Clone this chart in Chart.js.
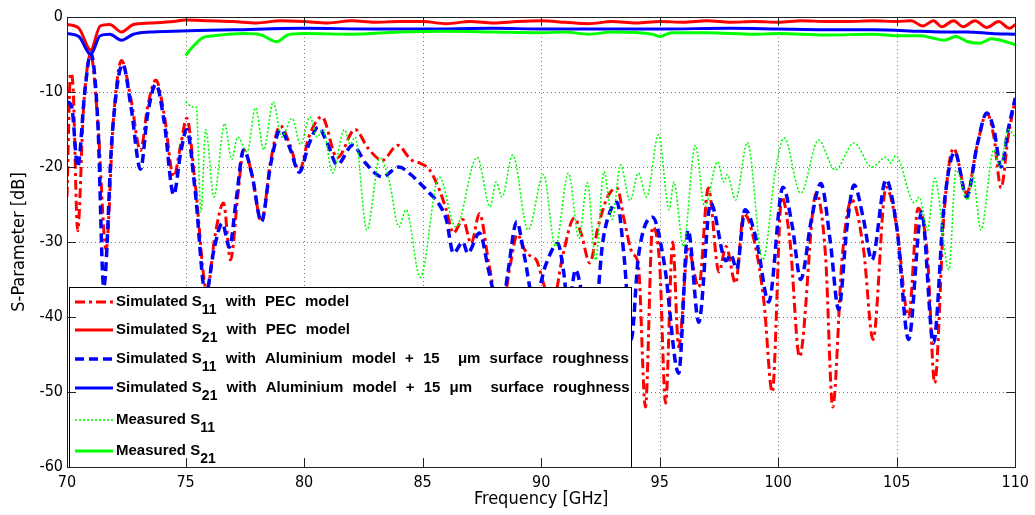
<!DOCTYPE html>
<html>
<head>
<meta charset="utf-8">
<script src="https://cdn.jsdelivr.net/npm/chart.js@4.4.1/dist/chart.umd.min.js"></script>
<style>
  html, body { margin: 0; padding: 0; background: #fff; }
  #wrap { width: 1035px; height: 515px; }
</style>
</head>
<body>
<div id="wrap"><canvas id="c" width="1035" height="515"></canvas></div>
<script>
// ---- Frequency axis [GHz] and S-parameter values [dB] ----

// Simulated S11, PEC model
const freqPecS11 = [70.0, 70.15, 70.25, 70.45, 70.7, 71.0, 71.3, 71.65, 71.95, 72.3,
  72.7, 73.1, 73.4, 73.75, 74.1, 74.5, 74.8, 75.05, 75.4, 75.9,
  76.25, 76.6, 76.9, 77.2, 77.45, 77.8, 78.2, 78.6, 79.0, 79.4,
  79.8, 80.2, 80.75, 81.4, 82.15, 82.7, 83.3, 83.95, 84.5, 84.9,
  85.3, 85.7, 86.0, 86.3, 86.7, 87.05, 87.4, 87.8, 88.3, 88.7,
  89.0, 89.3, 89.6, 89.8, 90.15, 90.5, 90.9, 91.4, 91.7, 92.05,
  92.4, 92.8, 93.2, 93.5, 93.85, 94.1, 94.4, 94.7, 95.0, 95.25,
  95.55, 95.8, 96.2, 96.65, 97.05, 97.5, 97.8, 98.2, 98.55, 99.0,
  99.4, 99.75, 100.15, 100.5, 100.9, 101.6, 102.0, 102.3, 102.7, 103.1,
  103.6, 104.0, 104.55, 105.0, 105.5, 105.9, 106.3, 106.6, 107.0, 107.4,
  107.95, 108.4, 108.8, 109.1, 109.4, 109.7, 110.0];
const pecS11 = [-24, -7.5, -9, -28.5, -12, -5.0, -14, -31, -14, -5.8,
  -11, -17.8, -12, -8.4, -13, -21.3, -17, -13.5, -22, -36.5,
  -29, -24.8, -32.4, -24, -17.7, -21, -27.3, -19, -14.5, -17,
  -20.5, -16, -13.3, -18.8, -15, -17.5, -19.1, -17.1, -19, -19.5,
  -20.4, -23, -25.7, -28.8, -27, -30.2, -26.2, -33, -40, -33,
  -29, -31, -32, -32.4, -36, -38, -32, -26.8, -29, -32.8,
  -28, -24, -22.8, -27, -31.5, -33, -52, -28, -33, -51.5,
  -30, -44, -31, -36, -22.8, -34, -30.6, -35.5, -26.2, -30,
  -38, -50, -24, -30, -45.3, -23.5, -32, -52, -32, -24.4,
  -31, -43, -22.7, -28, -40, -25.5, -32, -48.8, -26, -17.5,
  -23.5, -17, -12.8, -16, -22.8, -16, -11];

// Simulated S21, PEC model
const freqPecS21 = [70.0, 70.5, 71.0, 71.4, 71.8, 72.3, 72.8, 73.5, 74.5, 75.0,
  76.0, 77.0, 78.0, 79.0, 80.0, 81.0, 82.0, 83.0, 84.0, 85.0,
  86.0, 87.0, 88.0, 89.0, 90.0, 91.0, 92.0, 93.0, 94.0, 95.0,
  96.0, 97.0, 98.0, 99.0, 100.0, 101.0, 102.0, 103.0, 104.0, 105.0,
  105.6, 106.1, 106.55, 106.9, 107.4, 107.8, 108.3, 108.8, 109.3, 109.75, 110.0];
const pecS21 = [-1.0, -1.5, -4.4, -1.2, -1.0, -2.0, -1.0, -0.8, -0.6, -0.4,
  -0.5, -0.6, -0.8, -0.5, -0.6, -0.8, -0.5, -0.7, -0.6, -0.6,
  -0.9, -0.6, -0.8, -0.6, -0.5, -0.7, -0.9, -0.6, -0.8, -0.6,
  -0.7, -0.5, -0.7, -0.6, -0.7, -0.5, -0.6, -0.6, -0.5, -0.6,
  -0.5, -1.2, -0.5, -1.3, -0.5, -1.3, -0.5, -1.4, -0.6, -1.5, -1.0];

// Simulated S11, aluminium model + 15 um surface roughness
const freqAlS11 = [70.0, 70.2, 70.45, 70.75, 71.0, 71.3, 71.55, 71.9, 72.35, 72.7,
  73.1, 73.4, 73.75, 74.1, 74.5, 74.8, 75.05, 75.4, 75.85, 76.2,
  76.55, 76.85, 77.15, 77.45, 77.8, 78.2, 78.6, 79.0, 79.4, 79.8,
  80.2, 80.6, 81.0, 81.4, 82.05, 82.6, 83.3, 84.0, 84.5, 84.9,
  85.3, 85.7, 86.0, 86.3, 86.7, 86.9, 87.4, 87.8, 88.3, 88.6,
  88.97, 89.3, 89.7, 90.2, 90.7, 90.95, 91.15, 91.45, 91.8, 92.2,
  92.6, 92.9, 93.2, 93.5, 93.8, 94.1, 94.7, 95.2, 95.8, 96.2,
  96.65, 97.15, 97.8, 98.0, 98.25, 98.6, 99.1, 99.6, 100.2, 100.6,
  100.95, 101.4, 101.8, 102.2, 102.55, 102.9, 103.2, 103.6, 103.95, 104.55,
  105.0, 105.5, 106.05, 106.55, 107.0, 107.45, 107.95, 108.4, 108.8, 109.1,
  109.4, 109.7, 110.0];
const alS11 = [-11.3, -12, -20, -10, -4.8, -14, -36, -16, -6.3, -12,
  -20.3, -13, -9, -14, -23.7, -18, -15, -23, -37, -31,
  -27.5, -30.7, -24, -17.7, -21, -27.3, -19.5, -15, -17.5, -20.7,
  -17, -14.7, -17, -19.7, -17.1, -19.5, -21.3, -20, -21, -22.2,
  -23.5, -25, -27, -31.5, -30, -31.5, -28.8, -34, -40, -34,
  -27.3, -32, -38, -33, -30.2, -34, -39, -33.7, -38, -42,
  -30, -26, -24.7, -32, -43, -32, -26.7, -33, -47.5, -28.4,
  -40.7, -24.8, -32.5, -31.7, -33.6, -25.7, -30, -38, -22.7, -28,
  -35, -27, -22.2, -30, -39, -28, -22.4, -27, -32.4, -21.7,
  -28, -43, -26, -43.5, -25, -18, -24, -17, -12.8, -15,
  -20, -15, -10.8];

// Simulated S21, aluminium model + 15 um surface roughness
const freqAlS21 = [70.0, 70.5, 71.0, 71.4, 71.8, 72.3, 72.8, 73.5, 74.5, 75.5,
  77.0, 80.0, 83.0, 85.0, 88.0, 90.0, 92.0, 95.0, 98.0, 100.0,
  102.0, 104.0, 106.0, 107.0, 108.0, 109.0, 110.0];
const alS21 = [-2.2, -2.6, -5.0, -2.5, -2.3, -3.1, -2.3, -2.0, -1.9, -1.8,
  -1.7, -1.5, -1.6, -1.6, -1.5, -1.6, -1.6, -1.6, -1.5, -1.6,
  -1.7, -1.7, -1.9, -2.0, -2.0, -2.2, -2.3];

// Measured S11
const freqMeasS11 = [75.0, 75.3, 75.45, 75.65, 75.85, 76.2, 76.65, 76.95, 77.2, 77.6,
  77.95, 78.3, 78.7, 79.05, 79.5, 79.85, 80.25, 80.55, 80.8, 81.2,
  81.7, 81.95, 82.15, 82.65, 83.2, 83.6, 84.0, 84.3, 84.9, 85.7,
  86.4, 87.3, 87.85, 88.1, 88.35, 88.8, 89.45, 90.1, 90.6, 91.15,
  91.6, 91.95, 92.3, 92.65, 93.0, 93.35, 93.75, 94.1, 94.45, 94.95,
  95.4, 95.6, 96.0, 96.5, 96.9, 97.45, 97.7, 97.85, 98.2, 98.7,
  99.35, 99.9, 100.25, 100.95, 101.7, 102.4, 103.2, 103.95, 104.55, 104.75,
  104.95, 105.75, 105.95, 106.3, 106.6, 107.2, 107.5, 108.0, 108.2, 108.55,
  109.1, 109.35, 109.7, 110.0];
const measS11 = [-11.3, -12, -12, -26, -15, -24, -14.2, -19, -16, -18,
  -12.1, -17.7, -11.3, -16, -13.5, -17, -13.3, -16, -15, -20.8,
  -15, -17, -16, -28.4, -18.8, -22, -28, -25.7, -34.7, -21.3,
  -28, -18.7, -25.3, -22, -24, -18.4, -28.4, -21, -30.6, -20.8,
  -29.5, -22.1, -32.4, -20.6, -27, -19.7, -24.5, -20.8, -24, -15.7,
  -25.7, -22, -30.6, -17.1, -25.3, -19.3, -22, -21, -24.4, -16.7,
  -32.4, -20.1, -16.1, -23.5, -16.4, -20.4, -16.8, -20, -18.7, -19.5,
  -18.5, -24.8, -24, -28.4, -21.5, -33.7, -20.4, -24.4, -21, -28.4,
  -17.7, -20, -15, -16];

// Measured S21
const freqMeasS21 = [75.0, 75.3, 75.7, 76.2, 76.8, 77.5, 78.2, 78.85, 79.3, 80.0,
  82.0, 84.0, 86.0, 88.0, 90.0, 91.0, 92.0, 93.0, 94.7, 95.0,
  95.5, 97.0, 99.0, 100.0, 102.0, 104.0, 105.0, 106.0, 106.5, 107.0,
  107.5, 108.0, 108.5, 109.0, 109.5, 110.0];
const measS21 = [-5.1, -4.0, -2.8, -2.5, -2.3, -2.2, -2.4, -3.3, -2.4, -2.2,
  -2.3, -2.0, -1.9, -2.0, -2.1, -2.0, -2.3, -2.0, -2.3, -2.6,
  -2.1, -2.1, -2.3, -2.2, -2.4, -2.3, -2.5, -2.5, -2.8, -3.1,
  -2.6, -3.3, -3.5, -2.9, -3.2, -3.7];

// Axis ticks
const freqTicks = [70, 75, 80, 85, 90, 95, 100, 105, 110];
const dbTicks = [0, -10, -20, -30, -40, -50, -60];

// Legend entries: text before the subscript, subscript, text after it
const legendPre = ['Simulated S', 'Simulated S', 'Simulated S', 'Simulated S', 'Measured S', 'Measured S'];
const legendSub = ['11', '21', '11', '21', '11', '21'];
const legendPost = [' with PEC model', ' with PEC model',
  ' with Aluminium model + 15  \u03bcm surface roughness',
  ' with Aluminium model + 15 \u03bcm  surface roughness', '', ''];

// ---- styling ----
const RED = 'rgb(255,0,0)', BLUE = 'rgb(0,0,255)', GREEN = 'rgb(0,255,0)';
const NARROW = "'Liberation Sans Narrow','DejaVu Sans Condensed','Arial Narrow',sans-serif";
const BOLD = "'Liberation Sans',Arial,sans-serif";

function pts(xs, ys) { return xs.map((x, i) => ({ x: x, y: ys[i] })); }

const styles = [
  { color: RED, width: 3, dash: [10, 4, 3, 4] },
  { color: RED, width: 3, dash: [] },
  { color: BLUE, width: 3.5, dash: [9, 5] },
  { color: BLUE, width: 3, dash: [] },
  { color: GREEN, width: 1.6, dash: [2, 2] },
  { color: GREEN, width: 3, dash: [] }
];
const series = [
  pts(freqPecS11, pecS11), pts(freqPecS21, pecS21),
  pts(freqAlS11, alS11), pts(freqAlS21, alS21),
  pts(freqMeasS11, measS11), pts(freqMeasS21, measS21)
];

const datasets = series.map((d, i) => ({
  label: legendPre[i] + legendSub[i] + legendPost[i],
  data: d,
  borderColor: styles[i].color,
  borderWidth: styles[i].width,
  borderDash: styles[i].dash,
  pointRadius: 0,
  fill: false,
  cubicInterpolationMode: 'monotone',
  order: 6 - i
}));

// dotted grid under the curves
const dottedGrid = {
  id: 'dottedGrid',
  beforeDatasetsDraw(chart) {
    const { ctx, chartArea: a, scales: { x, y } } = chart;
    ctx.save();
    ctx.strokeStyle = '#777';
    ctx.lineWidth = 1;
    ctx.setLineDash([1, 3]);
    freqTicks.forEach(v => {
      const px = Math.round(x.getPixelForValue(v)) + 0.5;
      ctx.beginPath(); ctx.moveTo(px, a.top); ctx.lineTo(px, a.bottom); ctx.stroke();
    });
    dbTicks.forEach(v => {
      const py = Math.round(y.getPixelForValue(v)) + 0.5;
      ctx.beginPath(); ctx.moveTo(a.left, py); ctx.lineTo(a.right, py); ctx.stroke();
    });
    ctx.restore();
  }
};

// word-by-word text run with extra space between words
function spacedText(ctx, text, x, y, extra) {
  const sp = ctx.measureText(' ').width + extra;
  let cx = x;
  text.split(' ').forEach((w, k) => {
    if (k > 0) cx += sp;
    if (w) { ctx.fillText(w, cx, y); cx += ctx.measureText(w).width; }
  });
  return cx;
}

// boxed legend in the lower-left corner of the plot
const boxLegend = {
  id: 'boxLegend',
  afterDatasetsDraw(chart) {
    const { ctx, chartArea: a } = chart;
    const x0 = a.left + 2, y0 = 287, x1 = 631, y1 = a.bottom;
    const rowY = [302, 330, 359, 388, 420, 451];
    ctx.save();
    ctx.fillStyle = '#fff';
    ctx.fillRect(x0, y0, x1 - x0, y1 - y0);
    ctx.strokeStyle = '#000';
    ctx.lineWidth = 1;
    ctx.strokeRect(x0 + 0.5, y0 + 0.5, x1 - x0, y1 - y0);
    rowY.forEach((ry, i) => {
      const s = styles[i];
      ctx.strokeStyle = s.color;
      ctx.lineWidth = s.width;
      ctx.setLineDash(s.dash);
      ctx.beginPath(); ctx.moveTo(x0 + 6, ry); ctx.lineTo(x0 + 44, ry); ctx.stroke();
      ctx.setLineDash([]);
      ctx.fillStyle = '#000';
      ctx.textBaseline = 'middle';
      ctx.textAlign = 'left';
      let tx = x0 + 47;
      ctx.font = 'bold 15px ' + BOLD;
      ctx.fillText(legendPre[i], tx, ry);
      tx += ctx.measureText(legendPre[i]).width;
      ctx.font = 'bold 14px ' + BOLD;
      ctx.fillText(legendSub[i], tx, ry + 8);
      tx += ctx.measureText(legendSub[i]).width;
      ctx.font = 'bold 15px ' + BOLD;
      if (legendPost[i]) spacedText(ctx, legendPost[i], tx, ry, 5);
    });
    ctx.restore();
  }
};

// axes box with inward tick marks
const frameTicks = {
  id: 'frameTicks',
  afterDraw(chart) {
    const { ctx, chartArea: a, scales: { x, y } } = chart;
    ctx.save();
    ctx.strokeStyle = '#222';
    ctx.lineWidth = 1;
    ctx.strokeRect(Math.round(a.left) + 0.5, Math.round(a.top) + 0.5,
      Math.round(a.right - a.left), Math.round(a.bottom - a.top));
    const L = 9;
    ctx.beginPath();
    freqTicks.forEach(v => {
      const px = Math.round(x.getPixelForValue(v)) + 0.5;
      ctx.moveTo(px, a.top); ctx.lineTo(px, a.top + L);
      ctx.moveTo(px, a.bottom); ctx.lineTo(px, a.bottom - L);
    });
    dbTicks.forEach(v => {
      const py = Math.round(y.getPixelForValue(v)) + 0.5;
      ctx.moveTo(a.left, py); ctx.lineTo(a.left + L, py);
      ctx.moveTo(a.right, py); ctx.lineTo(a.right - L, py);
    });
    ctx.stroke();
    ctx.restore();
  }
};

new Chart(document.getElementById('c'), {
  type: 'line',
  data: { datasets: datasets },
  options: {
    responsive: false,
    animation: false,
    devicePixelRatio: 1,
    layout: { padding: { top: 17, right: 19, left: 0, bottom: 0 } },
    plugins: { legend: { display: false }, tooltip: { enabled: false } },
    scales: {
      x: {
        type: 'linear', min: 70, max: 110,
        afterBuildTicks: s => { s.ticks = freqTicks.map(v => ({ value: v })); },
        afterFit: s => { s.height = 48; },
        grid: { display: false, drawTicks: false },
        border: { display: false },
        ticks: { color: '#000', padding: 6, font: { family: NARROW, size: 16 }, maxRotation: 0 },
        title: { display: true, text: 'Frequency [GHz]', color: '#000',
          font: { family: NARROW, size: 18 }, padding: { top: 0, bottom: 5 } }
      },
      y: {
        type: 'linear', min: -60, max: 0,
        afterBuildTicks: s => { s.ticks = dbTicks.map(v => ({ value: v })); },
        afterFit: s => { s.width = 67; },
        grid: { display: false, drawTicks: false },
        border: { display: false },
        ticks: { color: '#000', padding: 4, font: { family: NARROW, size: 16 } },
        title: { display: true, text: 'S-Parameter [dB]', color: '#000',
          font: { family: NARROW, size: 18 }, padding: { top: 9, bottom: 6 } }
      }
    }
  },
  plugins: [dottedGrid, boxLegend, frameTicks]
});
</script>
</body>
</html>
